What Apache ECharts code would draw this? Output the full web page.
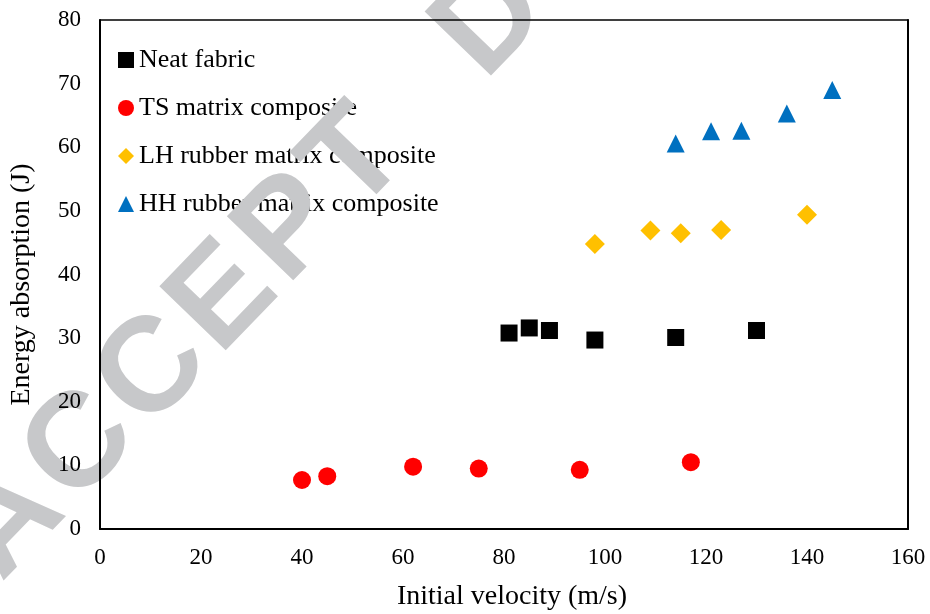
<!DOCTYPE html>
<html><head><meta charset="utf-8">
<script src="https://cdn.jsdelivr.net/npm/echarts@6/dist/echarts.min.js"></script>
<style>html,body{margin:0;padding:0;background:#fff}#c{width:930px;height:614px}</style>
</head><body><div id="c"></div>
<script>
// ---- data ----
const seriesNames = ['Neat fabric', 'TS matrix composite', 'LH rubber matrix composite', 'HH rubber matrix composite'];
const neatX = [81, 85, 89, 98, 114, 130];
const neatY = [30.8, 31.6, 31.2, 29.7, 30.1, 31.2];
const tsX = [40, 45, 62, 75, 95, 117];
const tsY = [7.7, 8.3, 9.8, 9.5, 9.3, 10.5];
const lhX = [98, 109, 115, 123, 140];
const lhY = [44.8, 46.9, 46.5, 47.0, 49.4];
const hhX = [114, 121, 127, 136, 145];
const hhY = [60.6, 62.5, 62.6, 65.3, 69.0];
const xMin = 0, xMax = 160, xStep = 20;
const yMin = 0, yMax = 80, yStep = 10;
const xTitle = 'Initial velocity (m/s)';
const yTitle = 'Energy absorption (J)';

const zip = (xs, ys) => xs.map((x, i) => [x, ys[i]]);
const FONT = '"Liberation Serif", "Times New Roman", serif';

const chart = echarts.init(document.getElementById('c'), null, {renderer: 'canvas'});
const axisLine = w => ({show: true, onZero: false, lineStyle: {color: '#000', width: w}});
const mk = (i, symbol, size, color, data) => ({
  name: seriesNames[i], type: 'scatter', symbol: symbol, symbolSize: size,
  itemStyle: {color: color, opacity: 1}, emphasis: {disabled: true}, data: data
});
const WM_FONT = 'bold 134px "Liberation Sans", Arial, sans-serif';
chart.setOption({
  animation: false,
  backgroundColor: '#fff',
  grid: {left: 100, right: 22, top: 20, bottom: 85, outerBoundsMode: 'none', containLabel: false},
  legend: {
    orient: 'vertical', left: 113, top: 42, itemGap: 22,
    itemWidth: 16, itemHeight: 16, z: 4,
    textStyle: {fontFamily: FONT, fontSize: 26, color: '#000'},
    data: [
      {name: seriesNames[0], icon: 'rect'},
      {name: seriesNames[1], icon: 'circle'},
      {name: seriesNames[2], icon: 'diamond'},
      {name: seriesNames[3], icon: 'triangle'}
    ]
  },
  xAxis: [{
    type: 'value', min: xMin, max: xMax, interval: xStep, z: 10,
    axisLine: axisLine(2), axisTick: {show: false}, splitLine: {show: false},
    axisLabel: {fontFamily: FONT, fontSize: 23, color: '#000', margin: 17},
    name: xTitle, nameLocation: 'middle', nameGap: 54,
    nameTextStyle: {fontFamily: FONT, fontSize: 28, color: '#000', padding: [0, 0, 0, 16]}
  }, {
    type: 'value', position: 'top', min: xMin, max: xMax, interval: xStep, z: 10,
    axisLine: axisLine(1.5), axisTick: {show: false}, splitLine: {show: false}, axisLabel: {show: false}
  }],
  yAxis: [{
    type: 'value', min: yMin, max: yMax, interval: yStep, z: 10,
    axisLine: axisLine(2), axisTick: {show: false}, splitLine: {show: false},
    axisLabel: {fontFamily: FONT, fontSize: 23, color: '#000', margin: 19},
    name: yTitle, nameLocation: 'middle', nameGap: 64, nameRotate: 90,
    nameTextStyle: {fontFamily: FONT, fontSize: 28, color: '#000', padding: [0, 20, 0, 0]}
  }, {
    type: 'value', position: 'right', min: yMin, max: yMax, interval: yStep, z: 10,
    axisLine: axisLine(2), axisTick: {show: false}, splitLine: {show: false}, axisLabel: {show: false}
  }],
  series: [
    mk(0, 'rect', 17, '#000000', zip(neatX, neatY)),
    mk(1, 'circle', 18, '#ff0000', zip(tsX, tsY)),
    mk(2, 'diamond', 20, '#ffc000', zip(lhX, lhY)),
    mk(3, 'triangle', 18, '#0070c0', zip(hhX, hhY))
  ],
  graphic: [{
    type: 'text', x: 250, y: 272, rotation: 46 * Math.PI / 180, z: 5, silent: true,
    style: {
      text: '{a|A}{a|C}{a|C}{a|E}{a|P}{a|T}{b|E}{a|D}',
      textAlign: 'center', textVerticalAlign: 'middle',
      rich: {
        a: {font: WM_FONT, fill: '#c7c8ca', padding: [0, 4, 0, 4]},
        b: {font: WM_FONT, fill: 'rgba(0,0,0,0)', padding: [0, 4, 0, 4]}
      }
    }
  }]
});
</script></body></html>
